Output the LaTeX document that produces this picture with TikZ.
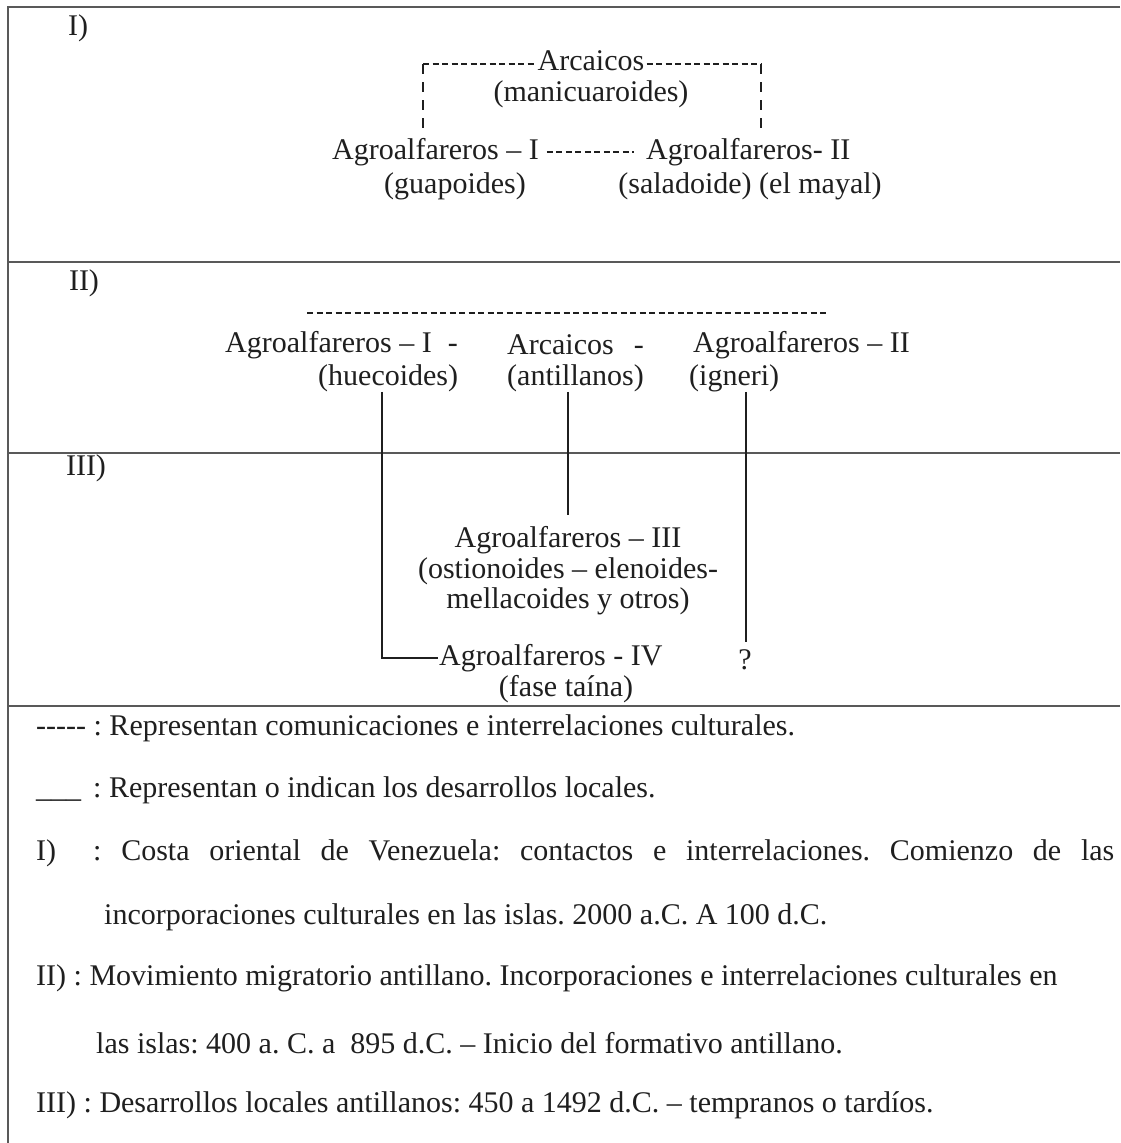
\documentclass[tikz,border=0pt]{standalone}
\usepackage{fontspec}
\setmainfont{Liberation Serif}
\frenchspacing
\begin{document}
\begin{tikzpicture}[x=1pt,y=-1pt,
  txt/.style={font=\fontsize{30pt}{30.5pt}\selectfont\frenchspacing, text=black!88, inner sep=0pt},
  rulel/.style={line width=1.5pt, draw=black!65},
  conn/.style={line width=1.6pt, draw=black!88},
  dconn/.style={conn, dash pattern=on 6pt off 3.5pt},
  vdconn/.style={line width=2pt, draw=black!88, dash pattern=on 10pt off 8pt}]
\useasboundingbox (0,0) rectangle (1120,1143);
\fill[white] (0,0) rectangle (1120,1143);
% table rules
\draw[rulel] (1120,7) -- (8,7) -- (8,1143);
\draw[rulel] (8,262) -- (1120,262);
\draw[rulel] (8,453) -- (1120,453);
\draw[rulel] (8,706) -- (1120,706);
% section labels
\node[txt] (s1) at (78,28) {I)};
\node[txt] (s2) at (84,283) {II)};
\node[txt] (s3) at (86,468) {III)};
% ---- section I
\node[txt] (arc) at (591,61) {Arcaicos};
\node[txt] (man) at (591,94) {(manicuaroides)};
\node[txt, anchor=west] (a1) at (332,152) {Agroalfareros – I};
\node[txt, anchor=west] (a2) at (646,152) {Agroalfareros- II};
\node[txt] (gua) at (455,186) {(guapoides)};
\node[txt] (sal) at (750,186) {(saladoide) (el mayal)};
\coordinate (tl) at (423,64);
\coordinate (tr) at (761,64);
\draw[dconn] (tl) -- ([xshift=-2pt]tl -| arc.west);
\draw[dconn] ([xshift=2pt]tr -| arc.east) -- (tr);
\draw[vdconn] (tl) -- ([yshift=4pt]tl |- a1.north);
\draw[vdconn] (tr) -- ([yshift=4pt]tr |- a2.north);
\draw[dconn] ([xshift=8pt]a1.east) -- ([xshift=-12pt]a2.west);
% ---- section II
\coordinate (dl) at (307,313);
\coordinate (dr) at (829,313);
\draw[dconn] (dl) -- (dr);
\node[txt, anchor=west] (b1) at (225,345) {Agroalfareros – I\hspace{16pt}-};
\node[txt, anchor=west] (b2) at (507,345) {Arcaicos\hspace{20pt}-};
\node[txt, anchor=west] (b3) at (693,345) {Agroalfareros – II};
\node[txt, anchor=west] (hue) at (318,378) {(huecoides)};
\node[txt, anchor=west] (ant) at (507,378) {(antillanos)};
\node[txt, anchor=west] (ign) at (689,378) {(igneri)};
% ---- section III
\node[txt, align=center] (a3) at (568,571) {Agroalfareros – III\\(ostionoides – elenoides-\\mellacoides y otros)};
\node[txt, anchor=west] (a4) at (439,658) {Agroalfareros - IV};
\node[txt] (q) at (745,660) {?};
\node[txt] (tai) at (566,689) {(fase taína)};
\coordinate (c4) at (382,0);
\coordinate (c5) at (568,0);
\coordinate (c6) at (746,0);
\draw[conn] (hue.south -| c4) -- (c4 |- a4.west) -- ([xshift=-1pt]a4.west);
\draw[conn] (ant.south -| c5) -- ([yshift=12pt]c5 |- a3.north);
\draw[conn] (ign.south -| c6) -- ([yshift=8pt]c6 |- q.north);
% ---- legend
\node[txt, anchor=west] (l1) at (36,728) {-{}-{}-{}-{}- : Representan comunicaciones e interrelaciones culturales.};
\node[txt, anchor=west] (l2) at (36,790) {\_\_\_\hspace{12pt}: Representan o indican los desarrollos locales.};
\node[txt, anchor=west] (l3) at (36,853) {\makebox[57pt][l]{I)}\makebox[1021pt][s]{: Costa oriental de Venezuela: contactos e interrelaciones. Comienzo de las}};
\node[txt, anchor=west] (l4) at (104,917) {incorporaciones culturales en las islas. 2000 a.C. A 100 d.C.};
\node[txt, anchor=west] (l5) at (36,978) {II) : Movimiento migratorio antillano. Incorporaciones e interrelaciones culturales en};
\node[txt, anchor=west] (l6) at (96,1043) {las islas: 400 a. C. a \ 895 d.C. – Inicio del formativo antillano.};
\node[txt, anchor=west] (l7) at (36,1105) {III) : Desarrollos locales antillanos: 450 a 1492 d.C. – tempranos o tardíos.};
\end{tikzpicture}
\end{document}
